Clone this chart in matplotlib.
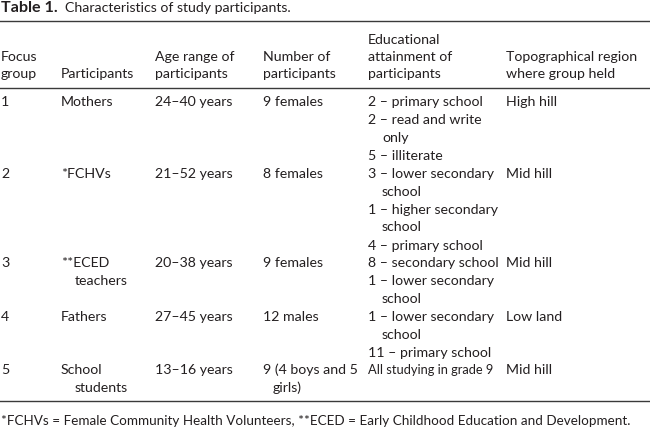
import matplotlib
matplotlib.use("Agg")
import matplotlib.pyplot as plt

FONT = "Lato"
plt.rcParams['font.family'] = [FONT, 'DejaVu Sans']

title_bold = "Table 1."
title_rest = "Characteristics of study participants."
headers = [["", "Focus", "group"],
           ["", "", "Participants"],
           ["", "Age range of", "participants"],
           ["", "Number of", "participants"],
           ["Educational", "attainment of", "participants"],
           ["", "Topographical region", "where group held"]]

focus_groups = ["1", "2", "3", "4", "5"]
participants = [["Mothers"], ["*FCHVs"], ["**ECED", "teachers"], ["Fathers"], ["School", "students"]]
age_ranges = ["24–40 years", "21–52 years", "20–38 years", "27–45 years", "13–16 years"]
numbers = [["9 females"], ["8 females"], ["9 females"], ["12 males"], ["9 (4 boys and 5", "girls)"]]
education = [
    [["2 – primary school"], ["2 – read and write", "only"], ["5 – illiterate"]],
    [["3 – lower secondary", "school"], ["1 – higher secondary", "school"], ["4 – primary school"]],
    [["8 – secondary school"], ["1 – lower secondary", "school"]],
    [["1 – lower secondary", "school"], ["11 – primary school"]],
    [["All studying in grade 9"]],
]
regions = ["High hill", "Mid hill", "Mid hill", "Low land", "Mid hill"]
footnote = "*FCHVs = Female Community Health Volunteers, **ECED = Early Childhood Education and Development."

W, H = 650, 428
fig = plt.figure(figsize=(W / 100, H / 100), dpi=100)
ax = fig.add_axes([0, 0, 1, 1])
ax.set_xlim(0, W)
ax.set_ylim(H, 0)
ax.axis("off")

TC = "#231f20"
LC = "#3a3a3a"
FS = 10.2
LH = 17.6
col_x = [1, 61, 155, 263, 368, 506]
indent = 14

def txt(x, y, s, fs=FS, **kw):
    ax.text(x, y, s, fontsize=fs, color=TC, va="center", ha="left", **kw)

# title
txt(1, 8, title_bold, fs=11.6, fontweight="bold")
txt(65, 8, title_rest)

ax.plot([0, W], [21, 21], color=LC, lw=1.0)
# headers
hy = [40, 57, 74]
for x, lines in zip(col_x, headers):
    for y, s in zip(hy, lines):
        if s:
            txt(x, y, s)
ax.plot([0, W], [87.5, 87.5], color=LC, lw=1.0)

row_y = [102, 174, 263, 317, 370]
edu_gap = 0.6
for i in range(len(focus_groups)):
    y0 = row_y[i]
    txt(col_x[0], y0, focus_groups[i])
    for k, s in enumerate(participants[i]):
        txt(col_x[1] + (indent if k else 0), y0 + k * LH, s)
    txt(col_x[2], y0, age_ranges[i])
    for k, s in enumerate(numbers[i]):
        txt(col_x[3] + (10 if k else 0), y0 + k * LH, s)
    y = y0
    for item in education[i]:
        for k, s in enumerate(item):
            fs = 9.3 if len(s) > 21 else FS
            txt(col_x[4] + (indent if k else 0), y, s, fs=fs)
            y += LH
        y += edu_gap
    txt(col_x[5], y0, regions[i])

ax.plot([0, W], [401, 401], color=LC, lw=1.0)
txt(1, 421, footnote, fs=9.7)

fig.savefig("out.png", dpi=100)
